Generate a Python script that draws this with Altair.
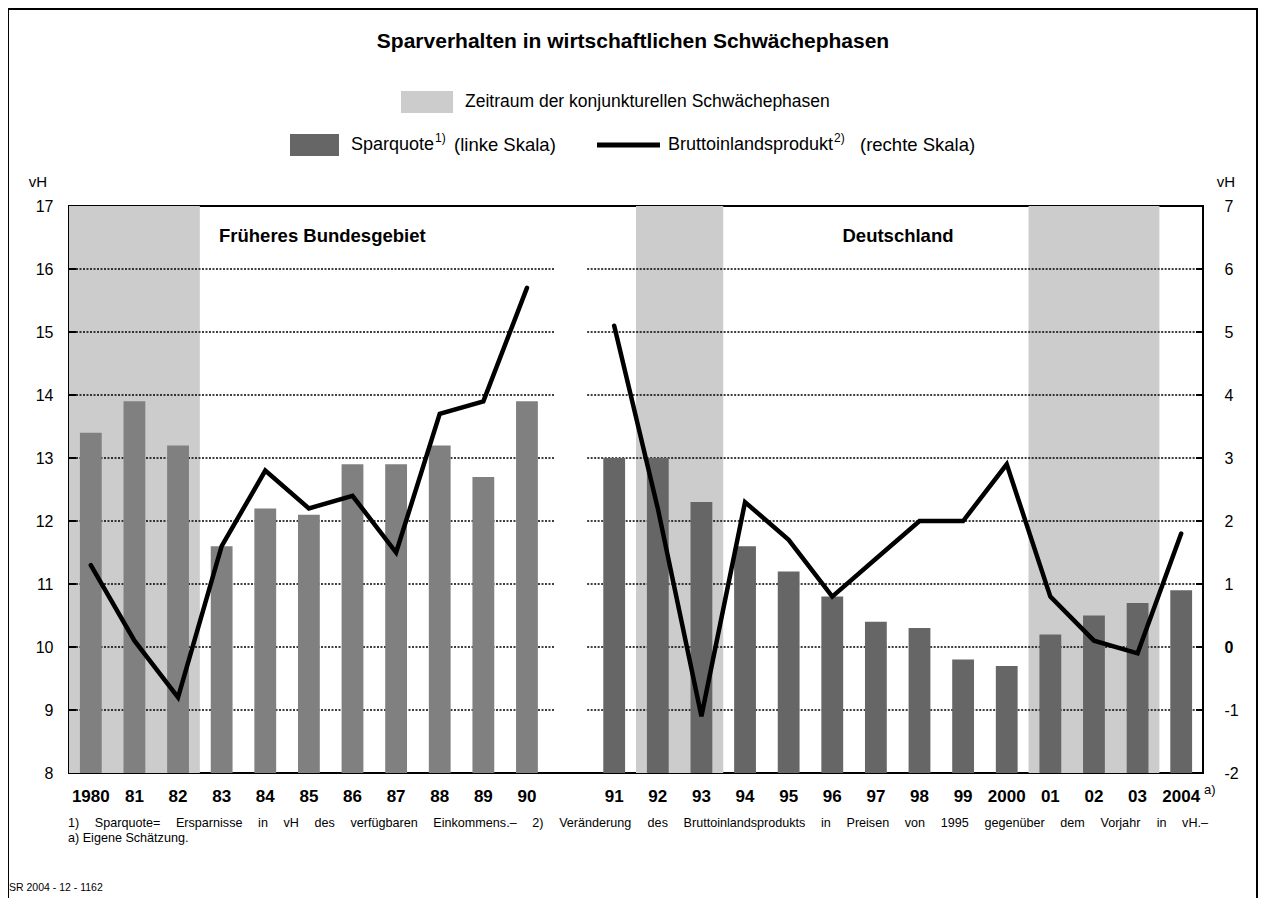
import altair as alt
import pandas as pd

# ---------------- data ----------------
west_years = ["1980", "81", "82", "83", "84", "85", "86", "87", "88", "89", "90"]
east_years = ["91", "92", "93", "94", "95", "96", "97", "98", "99", "2000", "01", "02", "03", "2004"]
west_sparquote = [13.4, 13.9, 13.2, 11.6, 12.2, 12.1, 12.9, 12.9, 13.2, 12.7, 13.9]
east_sparquote = [13.0, 13.0, 12.3, 11.6, 11.2, 10.8, 10.4, 10.3, 9.8, 9.7, 10.2, 10.5, 10.7, 10.9]
west_bip = [1.3, 0.1, -0.8, 1.6, 2.8, 2.2, 2.4, 1.5, 3.7, 3.9, 5.7]
east_bip = [5.1, 2.2, -1.1, 2.3, 1.7, 0.8, 1.4, 2.0, 2.0, 2.9, 0.8, 0.1, -0.1, 1.8]
shade_periods = [("1980", "82"), ("92", "93"), ("01", "03")]
left_ticks = list(range(8, 18))
right_ticks = list(range(-2, 8))
grid_levels = list(range(9, 17))

title_text = "Sparverhalten in wirtschaftlichen Schwächephasen"
legend_shade = "Zeitraum der konjunkturellen Schwächephasen"
legend_bar = "Sparquote"
legend_bar_sup = "1)"
legend_bar_tail = "(linke Skala)"
legend_line = "Bruttoinlandsprodukt"
legend_line_sup = "2)"
legend_line_tail = "(rechte Skala)"
region_west = "Früheres Bundesgebiet"
region_east = "Deutschland"
footnote_1 = ("1) Sparquote= Ersparnisse in vH des verfügbaren Einkommens.– 2) Veränderung des "
              "Bruttoinlandsprodukts in Preisen von 1995 gegenüber dem Vorjahr in vH.–")
footnote_2 = "a) Eigene Schätzung."
source_text = "SR 2004 - 12 - 1162"
unit_text = "vH"
last_mark = "a)"

# ---------------- tables ----------------
W, H = 1134, 567
FONT = "Liberation Sans"
n_west = len(west_years)
slots = list(range(n_west)) + list(range(n_west + 1, n_west + 1 + len(east_years)))
n_slots = n_west + 1 + len(east_years)

df = pd.DataFrame({
    "year": west_years + east_years,
    "slot": slots,
    "spar": west_sparquote + east_sparquote,
    "bip": west_bip + east_bip,
    "region": ["west"] * n_west + ["east"] * len(east_years),
})
df["bx0"] = df["slot"] + 0.25
df["bx1"] = df["slot"] + 0.75
df["cx"] = df["slot"] + 0.5

slot_of = dict(zip(west_years + east_years, slots))
shade_df = pd.DataFrame({
    "xs": [slot_of[a] for a, b in shade_periods],
    "xe": [slot_of[b] + 1 for a, b in shade_periods],
})

gap_a, gap_b = n_west + 0.12, n_west + 0.88
grid_df = pd.DataFrame([{"level": lv, "x0": s, "x1": e}
                        for lv in grid_levels for s, e in [(0, gap_a), (gap_b, n_slots)]])
tick_df = pd.DataFrame({"level": grid_levels})

xscale = alt.Scale(domain=[0, n_slots], nice=False, zero=False)
yl = alt.Scale(domain=[left_ticks[0], left_ticks[-1]], nice=False, zero=False)
yr = alt.Scale(domain=[right_ticks[0], right_ticks[-1]], nice=False, zero=False)

# justified first footnote line (Arial / Liberation Sans advance widths, 1/1000 em)
ARIAL = {
    "a": 556, "b": 556, "c": 500, "d": 556, "e": 556, "f": 278, "g": 556, "h": 556, "i": 222,
    "j": 222, "k": 500, "l": 222, "m": 833, "n": 556, "o": 556, "p": 556, "q": 556, "r": 333,
    "s": 500, "t": 278, "u": 556, "v": 500, "w": 722, "x": 500, "y": 500, "z": 500, "ä": 556,
    "ü": 556, "ö": 556, "B": 667, "E": 667, "H": 722, "P": 667, "S": 667, "V": 667,
    ")": 333, "(": 333, "=": 584, ".": 278, "–": 556, " ": 278,
}
FOOT_SIZE = 12.6
FOOT_SPAN = 1140


def text_width(s, size):
    return sum(ARIAL.get(ch, 556) for ch in s) / 1000.0 * size


words = footnote_1.split(" ")
widths = [text_width(w, FOOT_SIZE) for w in words]
gap = (FOOT_SPAN - sum(widths)) / (len(words) - 1)
pos, cur = [], -1.0
for w in widths:
    pos.append(cur)
    cur += w + gap
foot_df = pd.DataFrame({"word": words, "wx": [p * n_slots / W for p in pos]})


def txt(text, x, y, **kw):
    return alt.Chart(pd.DataFrame({"t": [text]})).mark_text(font=FONT, color="black", **kw).encode(
        text="t:N", x=alt.value(x), y=alt.value(y))


# ---------------- layers ----------------
shade = alt.Chart(shade_df).mark_rect(color="#cccccc").encode(
    x=alt.X("xs:Q", scale=xscale,
            axis=alt.Axis(values=list(range(n_slots + 1)), labels=False, ticks=True, tickSize=7,
                          tickWidth=2, tickColor="black", domain=False, grid=False, title=None)),
    x2="xe:Q",
    y=alt.value(0), y2=alt.value(H),
)

grid = alt.Chart(grid_df).mark_rule(color="black", strokeWidth=1.5, strokeDash=[2, 1.5]).encode(
    x=alt.X("x0:Q", scale=xscale, axis=None), x2="x1:Q",
    y=alt.Y("level:Q", scale=yl, axis=None),
)

ltick = alt.Chart(tick_df).mark_rule(color="black", strokeWidth=2).encode(
    x=alt.value(0), x2=alt.value(7), y=alt.Y("level:Q", scale=yl, axis=None))
rtick = alt.Chart(tick_df).mark_rule(color="black", strokeWidth=2).encode(
    x=alt.value(W - 7), x2=alt.value(W), y=alt.Y("level:Q", scale=yl, axis=None))

bars = alt.Chart(df).mark_rect().encode(
    x=alt.X("bx0:Q", scale=xscale, axis=None), x2="bx1:Q",
    y=alt.Y("spar:Q", scale=yl,
            axis=alt.Axis(orient="left", values=left_ticks, ticks=False, domain=False, grid=False,
                          labelPadding=16, labelFontSize=16, labelFont=FONT, labelColor="black",
                          title=None)),
    y2=alt.datum(left_ticks[0]),
    color=alt.Color("region:N", scale=alt.Scale(domain=["west", "east"], range=["#808080", "#666666"]),
                    legend=None),
)

line = alt.Chart(df).mark_line(color="black", strokeWidth=4.5, strokeJoin="miter", strokeCap="round").encode(
    x=alt.X("cx:Q", scale=xscale, axis=None),
    y=alt.Y("bip:Q", scale=yr,
            axis=alt.Axis(orient="right", values=right_ticks, ticks=False, domain=False, grid=False,
                          labelPadding=21, labelFontSize=16, labelFont=FONT, labelColor="black",
                          labelExpr="'' + datum.value",
                          labelFontWeight={"condition": {"test": "datum.value == 0", "value": "bold"},
                                           "value": "normal"},
                          title=None)),
    detail="region:N",
)

xlab = alt.Chart(df).mark_text(font=FONT, fontSize=17, fontWeight="bold", baseline="middle", color="black").encode(
    x=alt.X("cx:Q", scale=xscale, axis=None), y=alt.value(H + 24), text="year:N")

amark = alt.Chart(pd.DataFrame({"x": [n_slots], "t": [last_mark]})).mark_text(
    font=FONT, fontSize=13, align="left", dx=1, baseline="middle", color="black").encode(
    x=alt.X("x:Q", scale=xscale, axis=None), y=alt.value(H + 17), text="t:N")

foot1 = alt.Chart(foot_df).mark_text(font=FONT, fontSize=FOOT_SIZE, align="left", baseline="middle",
                                     color="black").encode(
    x=alt.X("wx:Q", scale=xscale, axis=None), y=alt.value(617), text="word:N")

frame = alt.Chart(pd.DataFrame({"a": [0]})).mark_rect(fillOpacity=0, stroke="black", strokeWidth=2).encode(
    x=alt.value(-61), x2=alt.value(W + 54), y=alt.value(-197), y2=alt.value(H + 300))

leg_rect1 = alt.Chart(pd.DataFrame({"a": [0]})).mark_rect(color="#cccccc").encode(
    x=alt.value(332), x2=alt.value(384), y=alt.value(-115), y2=alt.value(-93))
leg_rect2 = alt.Chart(pd.DataFrame({"a": [0]})).mark_rect(color="#666666").encode(
    x=alt.value(221), x2=alt.value(270), y=alt.value(-72), y2=alt.value(-50))
leg_line = alt.Chart(pd.DataFrame({"a": [0]})).mark_rule(color="black", strokeWidth=5).encode(
    x=alt.value(528), x2=alt.value(591), y=alt.value(-61))

texts = [
    txt(title_text, 564, -164, fontSize=21, fontWeight="bold", align="center", baseline="middle"),
    txt(legend_shade, 396, -104, fontSize=17.5, align="left", baseline="middle"),
    txt(legend_bar, 282, -61, fontSize=18, align="left", baseline="middle"),
    txt(legend_bar_sup, 366, -68, fontSize=12, align="left", baseline="middle"),
    txt(legend_bar_tail, 385, -61, fontSize=18.5, align="left", baseline="middle"),
    txt(legend_line, 599, -61, fontSize=18, align="left", baseline="middle"),
    txt(legend_line_sup, 765, -68, fontSize=12, align="left", baseline="middle"),
    txt(legend_line_tail, 791, -61, fontSize=18.5, align="left", baseline="middle"),
    txt(unit_text, -31, -24, fontSize=15, align="center", baseline="middle"),
    txt(unit_text, W + 23, -24, fontSize=15, align="center", baseline="middle"),
    txt(region_west, 150, 30, fontSize=18.5, fontWeight="bold", align="left", baseline="middle"),
    txt(region_east, 829, 30, fontSize=18.5, fontWeight="bold", align="center", baseline="middle"),
    txt(footnote_2, -1, 632, fontSize=FOOT_SIZE, align="left", baseline="middle"),
    txt(source_text, -60, 682, fontSize=10.5, align="left", baseline="middle"),
]

chart = alt.layer(
    shade, grid, ltick, rtick, bars, line, xlab, amark, foot1, frame, leg_rect1, leg_rect2, leg_line, *texts
).resolve_scale(y="independent").properties(
    width=W, height=H,
    autosize=alt.AutoSizeParams(type="none"),
    padding={"left": 61, "top": 198, "right": 55, "bottom": 125},
).configure_view(stroke="black", strokeWidth=2)

chart.save("out.html", embed_options={"renderer": "svg", "actions": False})
